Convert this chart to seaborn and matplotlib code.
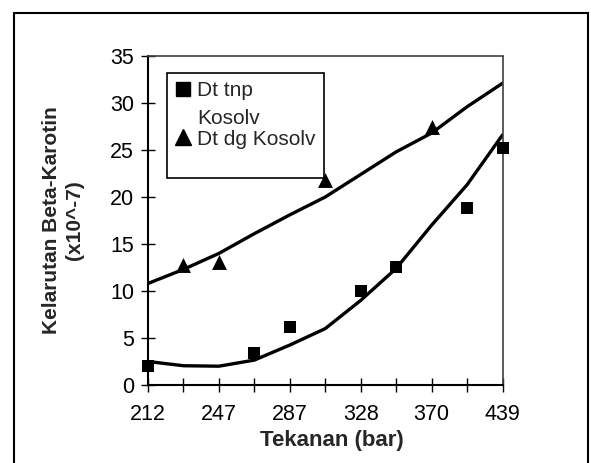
import matplotlib
matplotlib.use("Agg")
import matplotlib.pyplot as plt
from matplotlib.lines import Line2D
from matplotlib.patches import Rectangle
import pandas as pd
import seaborn as sns

# Excel-style category axis: 11 pressure slots, only every other one labelled
pressure_labels = ["212", "", "247", "", "287", "", "328", "", "370", "", "439"]
y_ticks = [0, 5, 10, 15, 20, 25, 30, 35]

# Dt tnp Kosolv (tanpa kosolven)
tnp_slot = [0, 3, 4, 6, 7, 9, 10]
tnp_val = [2.0, 3.4, 6.2, 10.0, 12.6, 18.8, 25.2]
tnp_trend = [2.5, 2.05, 2.0, 2.65, 4.25, 6.0, 9.0, 12.4, 17.0, 21.3, 26.6]

# Dt dg Kosolv (dengan kosolven)
dg_slot = [1, 2, 5, 8]
dg_val = [12.8, 13.1, 21.8, 27.5]
dg_trend = [10.8, 12.3, 14.0, 16.1, 18.1, 20.0, 22.4, 24.8, 26.8, 29.6, 32.1]

sns.set_style("ticks")
plt.rcParams["font.family"] = ["Liberation Sans", "DejaVu Sans"]

fig = plt.figure(figsize=(5.91, 4.63), dpi=100)
ax = fig.add_axes([148 / 591, 78 / 463, 354.5 / 591, 329 / 463])

slots = list(range(len(pressure_labels)))
trend = pd.DataFrame({"slot": slots, "tnp": tnp_trend, "dg": dg_trend})
sns.lineplot(data=trend, x="slot", y="dg", color="black", lw=2.4, ax=ax)
sns.lineplot(data=trend, x="slot", y="tnp", color="black", lw=2.4, ax=ax)

sns.scatterplot(x=tnp_slot, y=tnp_val, marker="s", s=85, color="black",
                linewidth=0, clip_on=False, zorder=4, ax=ax)
sns.scatterplot(x=dg_slot, y=dg_val, marker="^", s=115, color="black",
                linewidth=0, clip_on=False, zorder=4, ax=ax)

ax.set_xlim(0, 10)
ax.set_ylim(0, 35)
ax.set_xticks(slots, pressure_labels)
ax.set_yticks(y_ticks)
ax.tick_params(direction="inout", length=10, width=1, color="black",
               labelsize=15.5, labelcolor="black")
ax.tick_params(axis="x", pad=9)
ax.tick_params(axis="y", pad=5)

for side in ("left", "bottom"):
    ax.spines[side].set_color("black")
    ax.spines[side].set_linewidth(1.5)
for side in ("top", "right"):
    ax.spines[side].set_color("0.25")
    ax.spines[side].set_linewidth(1.2)
    ax.spines[side].set_linestyle((0, (2, 1)))

ax.set_xlabel("Tekanan (bar)", fontsize=16, fontweight="bold")
ax.xaxis.set_label_coords(0.52, -0.138)
ax.set_ylabel("Kelarutan Beta-Karotin\n(x10^-7)", fontsize=15,
              fontweight="bold", linespacing=1.3)
ax.yaxis.set_label_coords(-0.18, 0.5)

handles = [
    Line2D([], [], ls="none", marker="s", ms=9.5, color="black"),
    Line2D([], [], ls="none", marker="^", ms=11, color="black"),
    Line2D([], [], ls="none"),
]
labels = ["Dt tnp\nKosolv", "Dt dg Kosolv", " "]
leg = ax.legend(handles, labels, loc="upper left",
                bbox_to_anchor=(0.054, 0.948), borderaxespad=0,
                fontsize=15, frameon=True, fancybox=False, shadow=False,
                edgecolor="black", framealpha=1, handlelength=0.7,
                handletextpad=0.35, borderpad=0.4, labelspacing=0.1)
leg.get_frame().set_linewidth(1.2)
leg.get_texts()[0].set_linespacing(1.55)
# keep the square marker on the first line of the wrapped label
first_item = leg._legend_handle_box.get_children()[0].get_children()[0]
first_item.align = "top"

# outer frame of the scanned figure
fig.patches.append(Rectangle((14 / 591, -0.02), 574 / 591, 0.992,
                             transform=fig.transFigure, fill=False,
                             lw=1.5, ec="black"))

fig.savefig("out.png", dpi=100)
plt.close(fig)
